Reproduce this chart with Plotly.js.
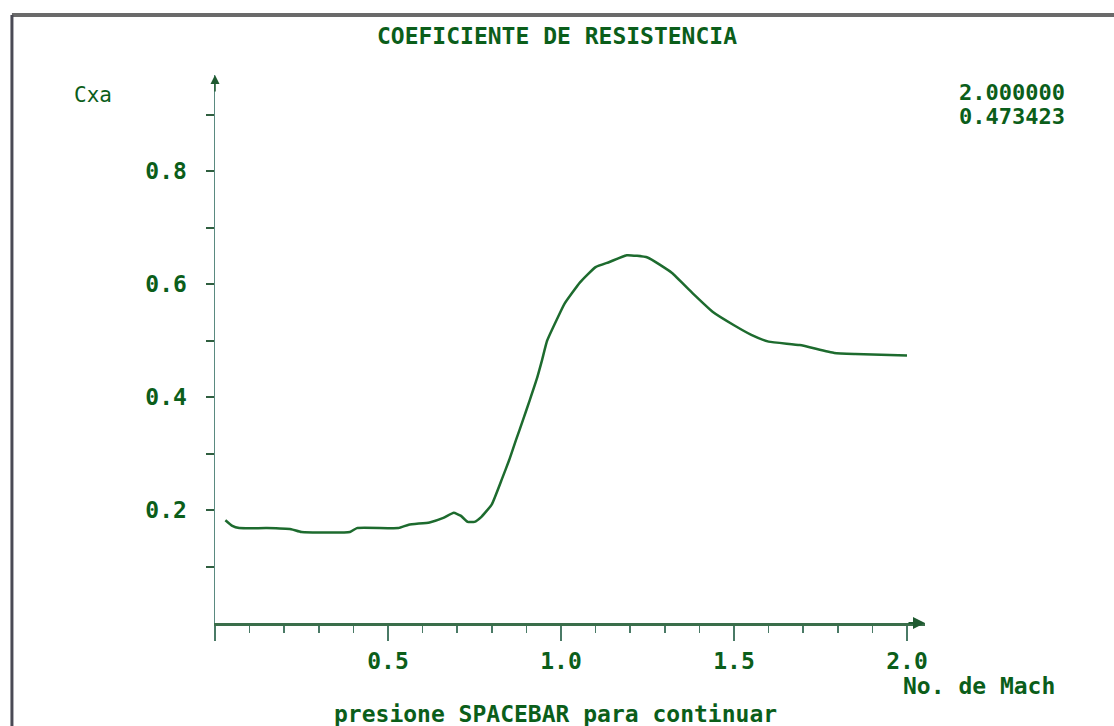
<!DOCTYPE html>
<html>
<head>
<meta charset="utf-8">
<script src="https://cdn.plot.ly/plotly-3.0.1.min.js"></script>
<style>html,body{margin:0;padding:0;background:#fff;}#chart{width:1114px;height:726px;}</style>
</head>
<body>
<div id="chart"></div>
<script>
// Mach number (x) and drag coefficient Cxa (y)
const mach = [0.03,0.05,0.07,0.15,0.22,0.25,0.39,0.41,0.53,0.56,0.62,0.66,0.69,0.71,0.73,0.75,0.77,0.80,0.83,0.85,0.87,0.89,0.91,0.93,0.945,0.96,0.99,1.01,1.055,1.10,1.14,1.19,1.25,1.32,1.38,1.44,1.50,1.55,1.60,1.69,1.79,1.85,2.0];
const cxa  = [0.182,0.172,0.168,0.168,0.166,0.161,0.161,0.168,0.168,0.174,0.178,0.186,0.195,0.19,0.179,0.179,0.188,0.21,0.256,0.288,0.324,0.359,0.395,0.432,0.465,0.50,0.54,0.565,0.603,0.63,0.639,0.651,0.647,0.62,0.584,0.55,0.527,0.51,0.498,0.492,0.478,0.476,0.473423];
const xTickVals = [0, 0.5, 1.0, 1.5, 2.0];
const xTickText = ['', '0.5', '1.0', '1.5', '2.0'];
const xMinorVals = [0.1,0.2,0.3,0.4,0.6,0.7,0.8,0.9,1.1,1.2,1.3,1.4,1.6,1.7,1.8,1.9];
const yTickVals = [0.2, 0.4, 0.6, 0.8];
const yTickText = ['0.2', '0.4', '0.6', '0.8'];
const yMinorVals = [0.1, 0.3, 0.5, 0.7, 0.9];
const titleText = 'COEFICIENTE DE RESISTENCIA';
const yLabel = 'Cxa';
const xLabel = 'No. de Mach';
const prompt = 'presione SPACEBAR para continuar';

const FONT = 'DejaVu Sans Mono, Liberation Mono, monospace';
const GREEN = '#0b5e1a';
const XMAX = 2.052, YMAX = 0.97;
const lastX = mach[mach.length-1], lastY = cxa[cxa.length-1];

const trace = {
  x: mach, y: cxa, type: 'scatter', mode: 'lines',
  line: {color: '#1d6b2e', width: 2.5, shape: 'spline', smoothing: 0.4},
  hoverinfo: 'none'
};

const layout = {
  width: 1114, height: 726,
  paper_bgcolor: '#ffffff', plot_bgcolor: '#ffffff',
  margin: {l: 215, r: 189, t: 75, b: 103},
  showlegend: false,
  font: {family: FONT, color: GREEN, size: 23, weight: 700},
  title: {text: titleText, x: 0.5, xanchor: 'center', xref: 'container', y: 0.95, yref: 'container', yanchor: 'middle',
          font: {family: FONT, size: 23, color: GREEN, weight: 700}},
  xaxis: {
    range: [0, XMAX], showgrid: false, zeroline: false,
    showline: true, linecolor: '#3a6e4a', linewidth: 3,
    tickmode: 'array', tickvals: xTickVals, ticktext: xTickText,
    ticks: 'outside', ticklen: 15, tickwidth: 1.5, tickcolor: '#4a7a66',
    tickfont: {family: FONT, size: 23, color: GREEN, weight: 700},
    minor: {tickmode: 'array', tickvals: xMinorVals, ticks: 'outside', ticklen: 7, tickwidth: 1.5, tickcolor: '#4a7a66', showgrid: false}
  },
  yaxis: {
    range: [0, YMAX], showgrid: false, zeroline: false,
    showline: true, linecolor: '#5a8a80', linewidth: 1.5,
    tickmode: 'array', tickvals: yTickVals, ticktext: yTickText,
    ticks: 'outside', ticklen: 8, tickwidth: 2, tickcolor: '#2f5f3f',
    ticklabelstandoff: 14,
    tickfont: {family: FONT, size: 23, color: GREEN, weight: 700},
    minor: {tickmode: 'array', tickvals: yMinorVals, ticks: 'outside', ticklen: 8, tickwidth: 2, tickcolor: '#2f5f3f', showgrid: false}
  },
  annotations: [
    {xref: 'x', yref: 'y', x: 0, y: YMAX, ax: 0, ay: 18, showarrow: true, arrowhead: 2, arrowsize: 1.2, arrowwidth: 1.5, arrowcolor: '#1f5a30', text: ''},
    {xref: 'x', yref: 'y', x: XMAX, y: 0, ax: -18, ay: 0, showarrow: true, arrowhead: 2, arrowsize: 1.2, arrowwidth: 2, arrowcolor: '#1f5a30', text: ''},
    {xref: 'paper', yref: 'paper', x: -0.201, y: 1.0, xanchor: 'left', yanchor: 'top', yshift: -6, showarrow: false, text: yLabel,
     font: {family: FONT, size: 21, color: GREEN, weight: 400}},
    {xref: 'paper', yref: 'paper', x: 1.2, y: 1.0, xanchor: 'right', yanchor: 'top', yshift: -3, showarrow: false,
     text: lastX.toFixed(6),
     font: {family: FONT, size: 22, color: GREEN, weight: 700}},
    {xref: 'paper', yref: 'paper', x: 1.2, y: 1.0, xanchor: 'right', yanchor: 'top', yshift: -27, showarrow: false,
     text: lastY.toFixed(6),
     font: {family: FONT, size: 22, color: GREEN, weight: 700}},
    {xref: 'paper', yref: 'paper', x: 1.186, y: 0, xanchor: 'right', yanchor: 'top', yshift: -48, showarrow: false, text: xLabel,
     font: {family: FONT, size: 23, color: GREEN, weight: 700}},
    {xref: 'paper', yref: 'paper', x: 0.479, y: 0, xanchor: 'center', yanchor: 'top', yshift: -76, showarrow: false, text: prompt,
     font: {family: FONT, size: 23, color: GREEN, weight: 700}}
  ],
  shapes: [
    {type: 'line', xref: 'paper', yref: 'paper', x0: -0.286, x1: 1.3, y0: 1 + 60/548, y1: 1 + 60/548, line: {color: '#6a6a6a', width: 4}},
    {type: 'line', xref: 'paper', yref: 'paper', x0: -0.286, x1: -0.286, y0: 1 + 60/548, y1: -103/548 - 0.01, line: {color: '#4a4a55', width: 3}}
  ]
};

Plotly.newPlot('chart', [trace], layout, {staticPlot: true, displayModeBar: false});
</script>
</body>
</html>
